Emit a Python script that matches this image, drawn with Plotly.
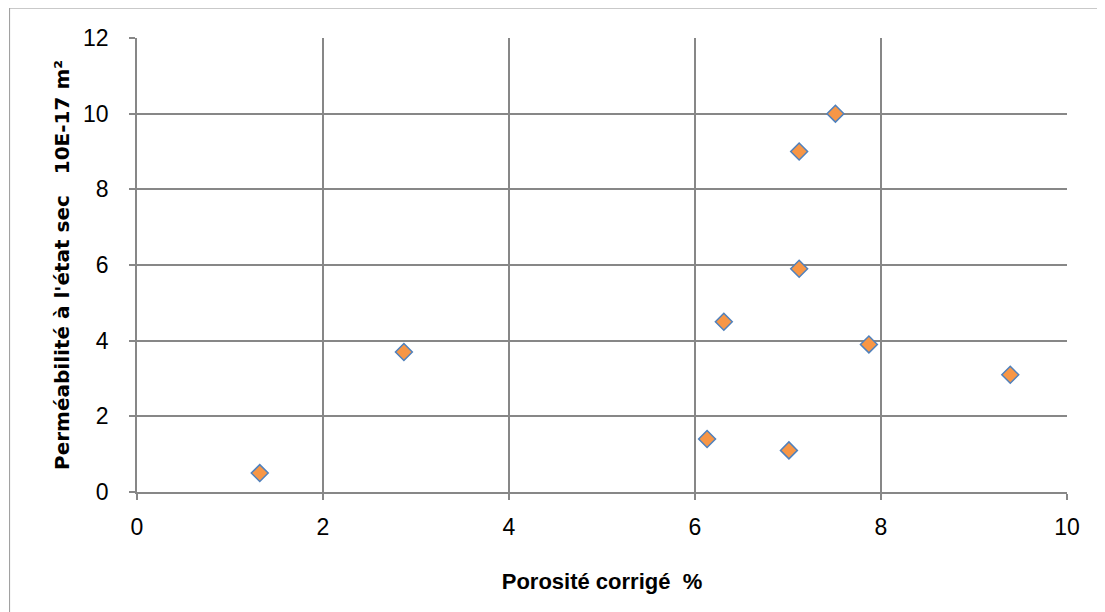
import plotly.graph_objects as go

# porosité corrigée (%) et perméabilité à l'état sec (10E-17 m²)
porosite = [1.32, 2.87, 6.13, 6.31, 7.01, 7.12, 7.12, 7.51, 7.87, 9.39]
permeabilite = [0.5, 3.7, 1.4, 4.5, 1.1, 5.9, 9.0, 10.0, 3.9, 3.1]

x_ticks = [0, 2, 4, 6, 8, 10]
y_ticks = [0, 2, 4, 6, 8, 10, 12]

grid_color = "#878787"
narrow = "Liberation Sans Narrow, Liberation Sans, sans-serif"
wide = "DejaVu Sans, Verdana, sans-serif"

fig = go.Figure()

fig.add_trace(go.Scatter(
    x=porosite,
    y=permeabilite,
    mode="markers",
    marker={"symbol": "diamond", "size": 13, "color": "#F79646",
            "line": {"color": "#4F81BD", "width": 1.5}},
    showlegend=False))

# cadre du graphique
fig.add_shape(type="rect", xref="paper", yref="paper",
              x0=-0.137, x1=1.06, y0=-0.3, y1=1.066,
              line={"color": "#9a9a9a", "width": 1}, layer="below")

fig.update_xaxes(
    range=[0, 10], tickvals=x_ticks,
    showgrid=True, gridcolor=grid_color, gridwidth=1.5,
    showline=True, linecolor=grid_color, linewidth=1.5,
    zeroline=False, mirror=False,
    ticks="outside", ticklen=6, tickcolor=grid_color, tickwidth=1.5,
    ticklabelstandoff=8,
    tickfont={"size": 23, "color": "black", "family": narrow},
    title={"text": "<b>Porosité corrigé  %</b>", "standoff": 34,
           "font": {"size": 22, "color": "black", "family": narrow}})

fig.update_yaxes(
    range=[0, 12], tickvals=y_ticks,
    showgrid=True, gridcolor=grid_color, gridwidth=1.5,
    showline=True, linecolor=grid_color, linewidth=1.5,
    zeroline=False,
    ticks="outside", ticklen=6, tickcolor=grid_color, tickwidth=1.5,
    ticklabelstandoff=16,
    tickfont={"size": 23, "color": "black", "family": narrow},
    title={"text": "<b>Perméabilité à l'état sec   10E-17 m²</b>", "standoff": 8,
           "font": {"size": 20, "color": "black", "family": wide}})

fig.update_layout(
    width=1105, height=612,
    margin={"l": 129, "r": 46, "t": 30, "b": 128},
    plot_bgcolor="white", paper_bgcolor="white")

fig.write_html("out.html")
